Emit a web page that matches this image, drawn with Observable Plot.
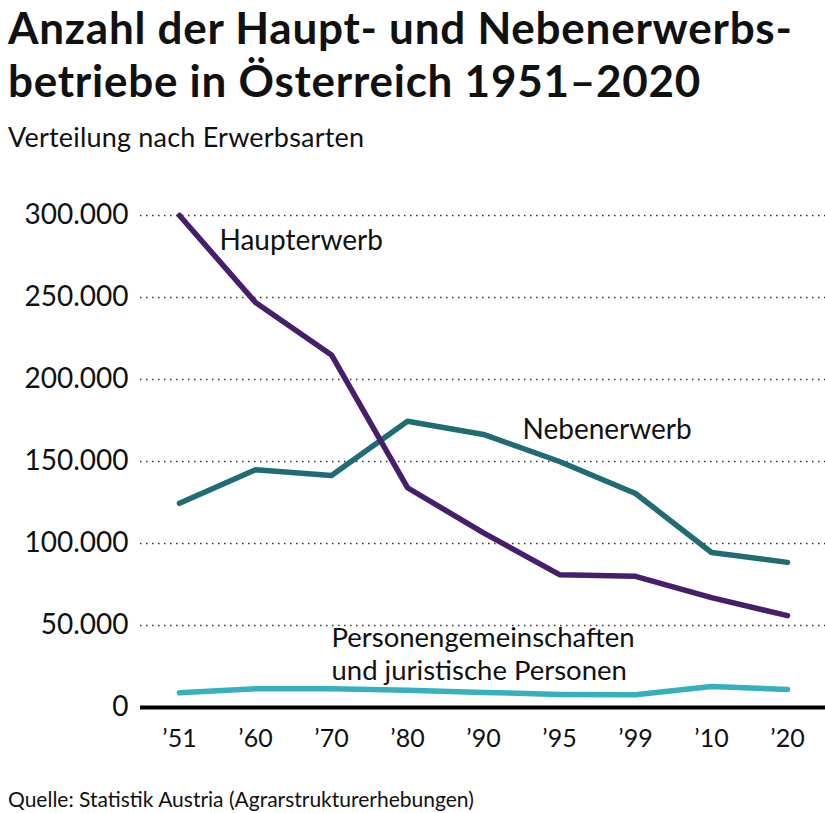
<!DOCTYPE html>
<html><head><meta charset="utf-8">
<script src="https://cdn.jsdelivr.net/npm/d3@7"></script>
<script src="https://cdn.jsdelivr.net/npm/@observablehq/plot@0.6"></script>
<style>
body{margin:0;background:#fff;font-family:Lato,"Noto Sans",sans-serif;color:#111;}
#wrap{width:825px;}
h1{margin:0;padding:1px 0 0 8px;font-size:44px;line-height:53px;font-weight:700;letter-spacing:0.75px;white-space:nowrap;}
.sub{padding:13px 0 0 8px;font-size:27px;line-height:34px;letter-spacing:0.2px;}
.cap{padding:10px 0 0 8px;font-size:21px;line-height:30px;}
#chart svg{display:block;}
</style></head><body>
<div id="wrap">
<h1>Anzahl der Haupt- und Nebenerwerbs-<br>betriebe in Österreich 1951–2020</h1>
<div class="sub">Verteilung nach Erwerbsarten</div>
<div id="chart"></div>
<div class="cap">Quelle: Statistik Austria (Agrarstrukturerhebungen)</div>
</div>
<script>
const years = ["’51","’60","’70","’80","’90","’95","’99","’10","’20"];
const haupterwerb = [300000,247000,215000,134000,106500,81000,80000,67000,56000];
const nebenerwerb = [124500,145000,141500,174500,166500,150000,130500,94500,88500];
const personen = [9000,11500,11500,10500,9200,8000,7800,12800,11000];
const yTicks = [0,50000,100000,150000,200000,250000,300000];

const rows = [];
years.forEach((y,i)=>{
  rows.push({year:y, value:haupterwerb[i], s:"Haupterwerb"});
  rows.push({year:y, value:nebenerwerb[i], s:"Nebenerwerb"});
  rows.push({year:y, value:personen[i], s:"Personen"});
});
const colors = {Haupterwerb:"#461e6c", Nebenerwerb:"#1f6c74", Personen:"#36b0bf"};
const fmt = d => d3.format(",")(d).replace(/,/g,".");

const plot = Plot.plot({
  width:825, height:620,
  marginLeft:140, marginRight:0, marginTop:61, marginBottom:67,
  style:{fontFamily:"Lato, 'Noto Sans', sans-serif", color:"#111", background:"#fff"},
  x:{type:"point", domain:years, padding:0.5, label:null},
  y:{domain:[0,300000], label:null},
  marks:[
    Plot.ruleY(yTicks.filter(d=>d>0), {stroke:"#333", strokeWidth:1.5, strokeDasharray:"1.5,4.5"}),
    Plot.axisY({ticks:yTicks, tickFormat:fmt, tickSize:0, tickPadding:12, fontSize:28, label:null}),
    Plot.axisX({tickSize:0, tickPadding:22, fontSize:25, label:null}),
    Plot.line(rows.filter(d=>d.s==="Personen"), {x:"year", y:"value", stroke:colors.Personen, strokeWidth:5.5}),
    Plot.line(rows.filter(d=>d.s==="Nebenerwerb"), {x:"year", y:"value", stroke:colors.Nebenerwerb, strokeWidth:5.5}),
    Plot.line(rows.filter(d=>d.s==="Haupterwerb"), {x:"year", y:"value", stroke:colors.Haupterwerb, strokeWidth:5.5}),
    Plot.ruleY([0], {stroke:"#000", strokeWidth:4}),
    Plot.text([{x:"’51", y:284500, t:"Haupterwerb"}], {x:"x", y:"y", text:"t", textAnchor:"start", dx:40, fontSize:28, fill:"#111"}),
    Plot.text([{x:"’95", y:169000, t:"Nebenerwerb"}], {x:"x", y:"y", text:"t", textAnchor:"start", dx:-37, fontSize:28, fill:"#111"}),
    Plot.text([{x:"’70", y:33000, t:"Personengemeinschaften\nund juristische Personen"}], {x:"x", y:"y", text:"t", textAnchor:"start", lineAnchor:"middle", lineHeight:1.2, fontSize:27.5, fill:"#111"})
  ]
});
document.getElementById("chart").appendChild(plot);
</script>
</body></html>
